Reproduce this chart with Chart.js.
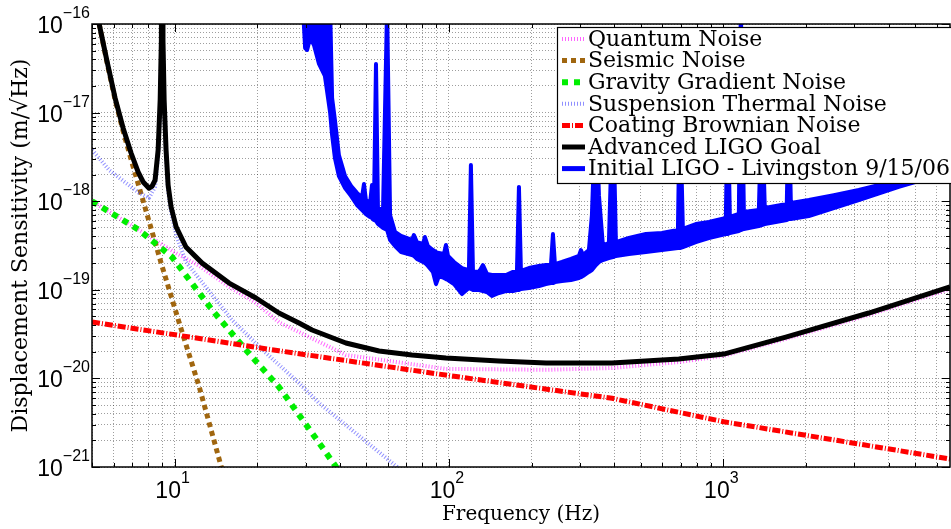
<!DOCTYPE html>
<html>
<head>
<meta charset="utf-8">
<script src="https://cdn.jsdelivr.net/npm/chart.js@4.4.1/dist/chart.umd.min.js"></script>
<style>
  html, body { margin: 0; padding: 0; background: #fff; }
</style>
</head>
<body>
<canvas id="chart" width="951" height="529"></canvas>
<script>
// axis ticks: base 10 with exponents
var xMajor = [10, 100, 1000];
var xMajorExp = ['1', '2', '3'];
var yMajor = [1e-21, 1e-20, 1e-19, 1e-18, 1e-17, 1e-16];
var yMajorExp = ['\u221221', '\u221220', '\u221219', '\u221218', '\u221217', '\u221216'];

var seriesNames = ['Quantum Noise', 'Seismic Noise', 'Gravity Gradient Noise', 'Suspension Thermal Noise',
  'Coating Brownian Noise', 'Advanced LIGO Goal', 'Initial LIGO - Livingston 9/15/06'];

// noise budget curves (Hz, m/rtHz)
var quantumF = [5.0, 7.42, 9.96, 12.3, 15.8, 19.8, 24.0, 42.1, 97.5, 226, 393, 688, 1004, 1689, 3389, 6684];
var quantumH = [1.0e-18, 4.73e-19, 2.67e-19, 1.86e-19, 1.08e-19, 7.1e-20, 4.3e-20, 1.84e-20, 1.28e-20, 1.25e-20,
  1.31e-20, 1.53e-20, 1.8e-20, 2.79e-20, 5.2e-20, 1.02e-19];

var seismicF = [5.0, 5.31, 5.68, 6.07, 6.49, 7.00, 7.61, 8.93, 10.4, 12.3, 14.8, 15.8];
var seismicH = [2.0e-16, 1.0e-16, 3.6e-17, 1.4e-17, 6.2e-18, 2.70e-18, 1.11e-18, 2.01e-19, 4.22e-20, 8.0e-21,
  1.0e-21, 4.6e-22];

var gravityF = [5.0, 7.42, 9.79, 13.7, 18.2, 24.0, 31.7, 38.8, 41.5];
var gravityH = [1.0e-18, 4.73e-19, 2.34e-19, 5.92e-20, 2.09e-20, 8.0e-21, 2.42e-21, 1.0e-21, 5.5e-22];

var suspensionF = [5.01, 5.77, 6.66, 7.42, 8.07, 8.49, 8.71, 8.86, 8.95, 9.0, 9.07, 9.16, 9.31, 9.47, 9.71,
  10.13, 11.0, 16.2, 21.5, 28.4, 33.6, 64.7, 68.4];
var suspensionH = [3.78e-18, 2.25e-18, 1.60e-18, 1.24e-18, 1.09e-18, 1.45e-18, 3.3e-18, 1.2e-17, 6e-17, 1e-14,
  6e-17, 1.2e-17, 3.3e-18, 1.3e-18, 7.55e-19, 4.15e-19, 2.06e-19, 4.56e-20, 1.94e-20, 8.87e-21, 5.27e-21, 1.0e-21, 8e-22];

var coatingF = [5.0, 24.0, 97.2, 393, 1004, 6700];
var coatingH = [4.33e-20, 2.05e-20, 1.09e-20, 5.96e-21, 3.24e-21, 1.23e-21];

var aligoF = [5.0, 5.31, 5.68, 6.07, 6.49, 6.94, 7.36, 7.68, 8.07, 8.28, 8.49, 8.71, 8.86, 8.95, 9.0, 9.07, 9.16,
  9.31, 9.47, 9.71, 10.13, 11.0, 12.6, 15.8, 19.8, 24.0, 28.4, 31.7, 42.1, 55.6, 73.3, 97.5, 152, 226, 393, 688,
  1004, 1689, 3389, 6700];
var aligoH = [2.0e-16, 1.0e-16, 3.72e-17, 1.46e-17, 6.70e-18, 3.50e-18, 2.14e-18, 1.65e-18, 1.40e-18, 1.48e-18,
  1.73e-18, 3.78e-18, 1.39e-17, 6.6e-17, 1e-14, 6.6e-17, 1.39e-17, 3.78e-18, 1.52e-18, 8.6e-19, 5.12e-19, 3.04e-19,
  2.0e-19, 1.19e-19, 8.08e-20, 5.47e-20, 4.22e-20, 3.52e-20, 2.51e-20, 2.04e-20, 1.84e-20, 1.70e-20, 1.57e-20,
  1.49e-20, 1.49e-20, 1.66e-20, 1.88e-20, 2.93e-20, 5.47e-20, 1.08e-19];

// measured spectrum, as upper / lower edge of the noisy trace
var blueF = [29.4, 29.9, 30.4, 31.2, 32.2, 33.6, 35.3, 36.9, 37.5, 38.4,
  39.7, 41.8, 44.0, 46.2, 48.2, 49.0, 49.8, 51.6, 52.4, 53.3,
  54.2, 55.1, 57.5, 59.5, 61.0, 63.6, 66.9, 73.3, 74.5, 76.4,
  80.4, 81.7, 83.8, 87.4, 89.7, 91.9, 95.9, 97.5, 99.2, 104.3,
  111.5, 118.2, 120.2, 122.3, 128.6, 133.0, 137.5, 143.4, 152.1, 161.3,
  171.1, 176.9, 179.9, 182.9, 195.6, 212.8, 225.6, 235.3, 239.3, 243.3,
  258.0, 278.3, 297.6, 302.6, 307.7, 323.6, 331.9, 343.2, 352.0, 363.9,
  382.7, 395.8, 405.9, 452.7, 522.0, 597.0, 683.0, 694.2, 712.0, 793.9,
  885.5, 1021, 1038, 1056, 1139, 1158, 1188, 1347, 1381, 1416,
  1703, 1732, 1762, 2049, 2527, 3116, 4359, 6684];
var blueUpper = [1.44e-16, 1.44e-16, 1.44e-16, 1.44e-16, 1.44e-16, 1.44e-16, 1.44e-16, 1.44e-16, 1.46e-17, 8.25e-18,
  3.32e-18, 1.92e-18, 1.48e-18, 1.24e-18, 1.11e-18, 1.56e-18, 1.03e-18, 9.54e-19, 1.52e-18, 9.06e-19,
  3.54e-17, 8.38e-19, 7.96e-19, 1.64e-16, 6.99e-19, 4.49e-19, 4.05e-19, 3.65e-19, 4.15e-19, 3.46e-19,
  3.29e-19, 3.94e-19, 3.12e-19, 2.81e-19, 2.67e-19, 2.60e-19, 2.54e-19, 3.20e-19, 2.41e-19, 2.06e-19,
  1.76e-19, 1.67e-19, 2.56e-18, 1.63e-19, 1.59e-19, 1.90e-19, 1.51e-19, 1.47e-19, 1.47e-19, 1.47e-19,
  1.59e-19, 1.59e-19, 1.45e-18, 1.63e-19, 1.76e-19, 1.86e-19, 1.90e-19, 1.90e-19, 4.26e-19, 1.95e-19,
  2.06e-19, 2.23e-19, 2.41e-19, 2.81e-19, 2.47e-19, 2.81e-19, 6.99e-19, 1.39e-17, 1.17e-18, 3.20e-19,
  3.37e-19, 1.39e-17, 3.46e-19, 3.84e-19, 4.26e-19, 4.38e-19, 4.73e-19, 1.39e-17, 4.86e-19, 5.53e-19,
  5.82e-19, 6.46e-19, 1.39e-17, 6.63e-19, 7.17e-19, 1.64e-16, 7.55e-19, 7.96e-19, 1.39e-17, 8.38e-19,
  9.30e-19, 1.39e-17, 9.54e-19, 1.03e-18, 1.17e-18, 1.34e-18, 1.73e-18, 2.92e-18];
var blueLower = [1.44e-16, 5.36e-17, 5.09e-17, 6.95e-17, 5.79e-17, 3.54e-17, 2.59e-17, 9.9e-18, 5.58e-18, 3.07e-18,
  1.92e-18, 1.41e-18, 1.14e-18, 9.06e-19, 7.96e-19, 7.55e-19, 7.17e-19, 6.63e-19, 6.46e-19, 6.13e-19,
  5.98e-19, 5.53e-19, 4.98e-19, 4.73e-19, 3.65e-19, 3.12e-19, 2.67e-19, 2.47e-19, 2.41e-19, 2.23e-19,
  2.06e-19, 2.01e-19, 1.86e-19, 1.59e-19, 1.16e-19, 1.43e-19, 1.36e-19, 1.32e-19, 1.29e-19, 1.16e-19,
  8.96e-20, 1.05e-19, 1.02e-19, 9.95e-20, 9.95e-20, 9.69e-20, 9.44e-20, 8.51e-20, 9.20e-20, 9.69e-20,
  9.69e-20, 9.95e-20, 9.95e-20, 1.02e-19, 1.05e-19, 1.10e-19, 1.16e-19, 1.19e-19, 1.19e-19, 1.22e-19,
  1.26e-19, 1.29e-19, 1.36e-19, 1.39e-19, 1.43e-19, 1.59e-19, 1.67e-19, 1.90e-19, 2.06e-19, 2.17e-19,
  2.28e-19, 2.34e-19, 2.41e-19, 2.54e-19, 2.67e-19, 2.81e-19, 2.96e-19, 2.96e-19, 3.04e-19, 3.46e-19,
  3.84e-19, 4.26e-19, 4.26e-19, 4.38e-19, 4.61e-19, 4.73e-19, 4.86e-19, 5.25e-19, 5.39e-19, 5.53e-19,
  6.13e-19, 6.30e-19, 6.30e-19, 6.81e-19, 8.38e-19, 1.03e-18, 1.45e-18, 2.14e-18];

var xMin = 5, xMax = 6700;

// grid lines at 1..9 x each decade
var xGrid = [], yGrid = [];
[1, 10, 100, 1000].forEach(function (d) {
  for (var m = 1; m <= 9; m++) {
    var v = m * d;
    if (v >= xMin && v <= xMax) xGrid.push(v);
  }
});
yMajor.forEach(function (d, i) {
  yGrid.push(d);
  if (i < yMajor.length - 1) for (var m = 2; m <= 9; m++) yGrid.push(m * d);
});

function pts(f, h) {
  return f.map(function (v, i) { return {x: v, y: h[i]}; });
}

var styles = [
  {color: 'rgba(255,0,255,0.6)', width: 4, dash: [1, 2]},
  {color: '#a0660f', width: 5, dash: [5, 4]},
  {color: '#00ee00', width: 6, dash: [6, 6]},
  {color: 'rgba(70,70,255,0.6)', width: 4, dash: [1, 2]},
  {color: '#ff0000', width: 5, dash: [8, 2, 1, 2]},
  {color: '#000000', width: 5, dash: []},
  {color: '#0000ff', width: 5, dash: []}
];
var curves = [pts(quantumF, quantumH), pts(seismicF, seismicH), pts(gravityF, gravityH),
  pts(suspensionF, suspensionH), pts(coatingF, coatingH), pts(aligoF, aligoH)];

var datasets = curves.map(function (d, i) {
  return {
    label: seriesNames[i], data: d, borderColor: styles[i].color, borderWidth: styles[i].width,
    borderDash: styles[i].dash, borderJoinStyle: 'round', pointRadius: 0, tension: 0, fill: false,
    clip: 0, order: -i
  };
});
// noisy trace as one closed outline: upper edge out, lower edge back
var blueOutline = pts(blueF, blueUpper).concat(pts(blueF, blueLower).reverse());
datasets.push({
  label: seriesNames[6], data: blueOutline, borderColor: '#0000ff', borderWidth: 4,
  borderJoinStyle: 'round', pointRadius: 0, tension: 0, fill: false, clip: 0, order: -6
});
var BAND = datasets.length - 1;

// fill the inside of the measured trace from the points the line controller placed
var bandFill = {
  id: 'bandFill',
  beforeDatasetsDraw: function (chart) {
    var meta = chart.getDatasetMeta(BAND), a = chart.chartArea, ctx = chart.ctx;
    ctx.save();
    ctx.beginPath();
    ctx.rect(a.left, a.top, a.right - a.left, a.bottom - a.top);
    ctx.clip();
    ctx.beginPath();
    meta.data.forEach(function (p, i) {
      if (i === 0) ctx.moveTo(p.x, p.y); else ctx.lineTo(p.x, p.y);
    });
    ctx.closePath();
    ctx.fillStyle = '#0000ff';
    ctx.fill();
    ctx.restore();
  }
};

function drawPow(ctx, exp, x, y, anchor) {
  // "10" with raised exponent; anchor: 'right' end or 'center'
  ctx.font = "23px 'Liberation Sans', Arial, sans-serif";
  var wb = ctx.measureText('10').width;
  ctx.font = "16px 'Liberation Sans', Arial, sans-serif";
  var we = ctx.measureText(exp).width;
  var x0 = anchor === 'right' ? x - wb - we : x - (wb + we) / 2;
  ctx.font = "23px 'Liberation Sans', Arial, sans-serif";
  ctx.fillText('10', x0, y);
  ctx.font = "16px 'Liberation Sans', Arial, sans-serif";
  ctx.fillText(exp, x0 + wb, y - 15);
}

// inner tick marks, tick labels, box and legend
var frame = {
  id: 'frame',
  afterDraw: function (chart) {
    var ctx = chart.ctx, a = chart.chartArea;
    var xs = chart.scales.x, ys = chart.scales.y;
    ctx.save();
    ctx.strokeStyle = '#000';
    ctx.lineWidth = 1;
    ctx.beginPath();
    xGrid.forEach(function (v) {
      var px = Math.round(xs.getPixelForValue(v)) + 0.5;
      var len = xMajor.indexOf(v) >= 0 ? 8 : 4;
      ctx.moveTo(px, a.bottom); ctx.lineTo(px, a.bottom - len);
      ctx.moveTo(px, a.top); ctx.lineTo(px, a.top + len);
    });
    yGrid.forEach(function (v) {
      var py = Math.round(ys.getPixelForValue(v)) + 0.5;
      var len = yMajor.indexOf(v) >= 0 ? 8 : 4;
      ctx.moveTo(a.left, py); ctx.lineTo(a.left + len, py);
      ctx.moveTo(a.right, py); ctx.lineTo(a.right - len, py);
    });
    ctx.stroke();
    ctx.lineWidth = 1.5;
    ctx.strokeRect(a.left, a.top, a.right - a.left, a.bottom - a.top);

    ctx.fillStyle = '#000';
    ctx.textBaseline = 'alphabetic';
    ctx.textAlign = 'left';
    yMajor.forEach(function (v, i) {
      drawPow(ctx, yMajorExp[i], a.left - 2, ys.getPixelForValue(v) + 9, 'right');
    });
    xMajor.forEach(function (v, i) {
      drawPow(ctx, xMajorExp[i], xs.getPixelForValue(v) - 2, a.bottom + 31, 'center');
    });

    // legend box in the top right corner
    var lx = a.right - 393, ly = a.top + 3, lw = 400, lh = 156;
    ctx.fillStyle = '#fff';
    ctx.fillRect(lx, ly, lw, lh);
    ctx.lineWidth = 1.2;
    ctx.strokeRect(lx + 0.5, ly + 0.5, lw, lh);
    ctx.font = "22px 'DejaVu Serif', serif";
    ctx.textBaseline = 'middle';
    seriesNames.forEach(function (name, i) {
      var y = ly + 12 + i * 21.6;
      var s = styles[i];
      ctx.beginPath();
      ctx.setLineDash(s.dash);
      ctx.strokeStyle = s.color;
      ctx.lineWidth = s.width;
      ctx.moveTo(lx + 5, y); ctx.lineTo(lx + 28, y);
      ctx.stroke();
      ctx.setLineDash([]);
      ctx.fillStyle = '#000';
      ctx.fillText(name, lx + 31, y + 1);
    });
    ctx.restore();
  }
};

new Chart(document.getElementById('chart'), {
  type: 'line',
  data: {datasets: datasets},
  options: {
    responsive: false,
    animation: false,
    events: [],
    layout: {padding: {top: 24, right: 1, left: 0, bottom: 0}},
    plugins: {legend: {display: false}, tooltip: {enabled: false}},
    scales: {
      x: {
        type: 'logarithmic', min: xMin, max: xMax,
        afterBuildTicks: function (s) { s.ticks = xGrid.map(function (v) { return {value: v}; }); },
        afterFit: function (s) { s.height = 62; },
        ticks: {display: false, autoSkip: false},
        grid: {color: 'rgba(0,0,0,0.38)', lineWidth: 1, drawTicks: false},
        border: {display: false, dash: [1, 2]},
        title: {display: true, text: 'Frequency (Hz)', color: '#000',
          font: {family: "'DejaVu Serif', serif", size: 20}, padding: {top: 0, bottom: 2}}
      },
      y: {
        type: 'logarithmic', min: 1e-21, max: 1e-16,
        afterBuildTicks: function (s) { s.ticks = yGrid.map(function (v) { return {value: v}; }); },
        afterFit: function (s) { s.width = 92; },
        ticks: {display: false, autoSkip: false},
        grid: {color: 'rgba(0,0,0,0.38)', lineWidth: 1, drawTicks: false},
        border: {display: false, dash: [1, 2]},
        title: {display: true, text: 'Displacement Sensitivity (m/\u221AHz)', color: '#000',
          font: {family: "'DejaVu Serif', serif", size: 22}, padding: {top: 8, bottom: 0}}
      }
    }
  },
  plugins: [bandFill, frame]
});
</script>
</body>
</html>
